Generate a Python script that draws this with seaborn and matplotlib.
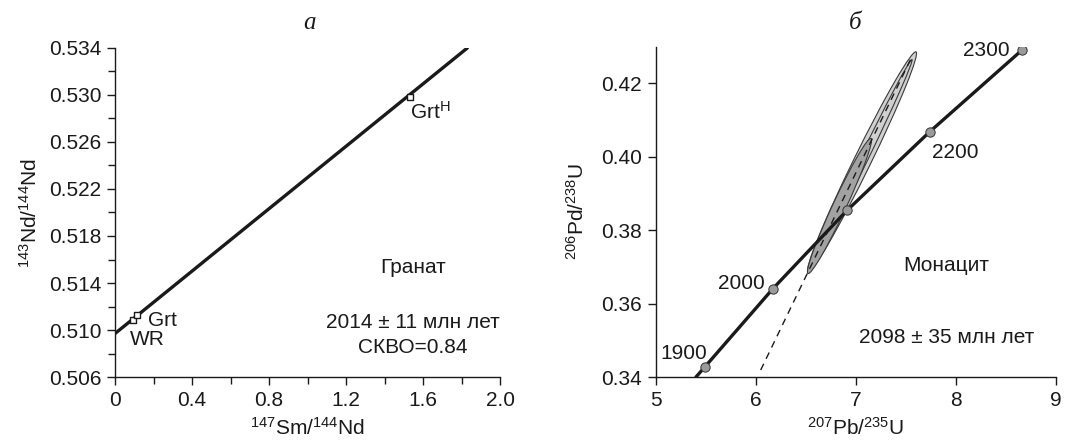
import numpy as np
import matplotlib
matplotlib.use('Agg')
import matplotlib.pyplot as plt
import matplotlib.transforms as mtransforms
from matplotlib.patches import Ellipse
import pandas as pd
import seaborn as sns

# ── Data: Sm–Nd isochron (panel a) ───────────────────────────────────────────
ISO_X = [0.0, 1.83]
ISO_Y = [0.5097, 0.5340]
PTS_NAMES = ['WR', 'Grt', 'GrtH']
PTS_X = [0.092, 0.116, 1.532]
PTS_Y = [0.51085, 0.5113, 0.52986]

X1_TICKS = [0.0, 0.4, 0.8, 1.2, 1.6, 2.0]
X1_LABELS = ['0', '0.4', '0.8', '1.2', '1.6', '2.0']
X1_MINOR = [0.2, 0.6, 1.0, 1.4, 1.8]
Y1_TICKS = [0.506, 0.510, 0.514, 0.518, 0.522, 0.526, 0.530, 0.534]
Y1_MINOR = [0.508, 0.512, 0.516, 0.520, 0.524, 0.528, 0.532]

# ── Data: U–Pb concordia (panel б) ───────────────────────────────────────────
CONC_X = [5.40, 5.49, 6.17, 6.91, 7.74, 8.66, 8.68]
CONC_Y = [0.3400, 0.3428, 0.3641, 0.3854, 0.4069, 0.4291, 0.4295]
AGE_LABELS = [1900, 2000, 2100, 2200, 2300]
AGE_X = [5.49, 6.17, 6.91, 7.74, 8.66]
AGE_Y = [0.3428, 0.3641, 0.3854, 0.4069, 0.4291]

DISC_X = [6.047, 7.55]
DISC_Y = [0.3419, 0.4268]

X2_TICKS = [5, 6, 7, 8, 9]
Y2_TICKS = [0.34, 0.36, 0.38, 0.40, 0.42]

# error ellipses: centre, half major axis, half minor axis (data units)
ELL_CX = [7.06, 7.07, 6.835]
ELL_CY = [0.3986, 0.3990, 0.3866]
ELL_AX = [0.54, 0.49, 0.315]
ELL_AY = [0.0300, 0.0275, 0.0184]
ELL_BX = [-0.0760, -0.036, -0.060]
ELL_BY = [0.00102, 0.00048, 0.00078]
ELL_FILL = ['#d0d0d0', 'none', '#a2a2a2']

DARK = '#1a1a1a'

sns.set_theme(style='ticks')
plt.rcParams['font.family'] = ['Liberation Sans', 'DejaVu Sans']
plt.rcParams['mathtext.fontset'] = 'custom'
plt.rcParams['mathtext.rm'] = 'Liberation Sans'
plt.rcParams['mathtext.it'] = 'Liberation Sans'
plt.rcParams['axes.edgecolor'] = DARK
plt.rcParams['axes.linewidth'] = 1.0

FS = 15

fig = plt.figure(figsize=(10.77, 4.41), dpi=100)
fig.patch.set_facecolor('white')
ax1 = fig.add_axes([0.1068, 0.1451, 0.3575, 0.7461])
ax2 = fig.add_axes([0.6091, 0.1451, 0.3714, 0.7489])


def style(ax):
    ax.spines[['top', 'right']].set_visible(False)
    ax.tick_params(axis='both', which='major', labelsize=FS, length=6, width=1,
                   direction='out', colors=DARK, pad=4)
    ax.tick_params(axis='both', which='minor', length=5, width=1, direction='out', colors=DARK)
    ax.set_facecolor('white')


# ══ Panel a ══════════════════════════════════════════════════════════════════
iso = pd.DataFrame({'x': ISO_X, 'y': ISO_Y})
sns.lineplot(data=iso, x='x', y='y', ax=ax1, color=DARK, linewidth=2.4, sort=False, zorder=2)
pts = pd.DataFrame({'x': PTS_X, 'y': PTS_Y, 'name': PTS_NAMES})
sns.scatterplot(data=pts, x='x', y='y', ax=ax1, marker='s', s=22, color='white',
                edgecolor=DARK, linewidth=1.0, zorder=3)

ax1.set_xlim(0, 2.0)
ax1.set_ylim(0.506, 0.534)
ax1.set_xticks(X1_TICKS, X1_LABELS)
ax1.set_xticks(X1_MINOR, minor=True)
ax1.set_yticks(Y1_TICKS, [f"{v:.3f}" for v in Y1_TICKS])
ax1.set_yticks(Y1_MINOR, minor=True)
style(ax1)
ax1.set_xlabel('$^{147}$Sm/$^{144}$Nd', fontsize=FS, color=DARK, labelpad=5)
ax1.set_ylabel('$^{143}$Nd/$^{144}$Nd', fontsize=FS, color=DARK, labelpad=6)

ax1.text(0.171, 0.51085, 'Grt', fontsize=FS, color=DARK, ha='left', va='center')
ax1.text(0.078, 0.50915, 'WR', fontsize=FS, color=DARK, ha='left', va='center')
ax1.text(1.532, 0.52855, 'Grt$^{\\mathrm{H}}$', fontsize=FS, color=DARK, ha='left', va='center')
ax1.text(1.548, 0.51536, 'Гранат', fontsize=FS, color=DARK, ha='center', va='center')
ax1.text(1.548, 0.51068, '2014 ± 11 млн лет', fontsize=FS, color=DARK, ha='center', va='center')
ax1.text(1.548, 0.50847, 'СКВО=0.84', fontsize=FS, color=DARK, ha='center', va='center')

# ══ Panel б ══════════════════════════════════════════════════════════════════
for cx, cy, axx, ayy, bx, by, fc in zip(ELL_CX, ELL_CY, ELL_AX, ELL_AY, ELL_BX, ELL_BY, ELL_FILL):
    tr = mtransforms.Affine2D(np.array([[axx, bx, cx], [ayy, by, cy], [0, 0, 1]])) + ax2.transData
    e = Ellipse((0, 0), 2, 2, facecolor=fc, edgecolor='#3a3a3a', linewidth=0.8,
                transform=tr, zorder=1)
    ax2.add_patch(e)

disc = pd.DataFrame({'x': DISC_X, 'y': DISC_Y})
sns.lineplot(data=disc, x='x', y='y', ax=ax2, color=DARK, linewidth=1.0, sort=False,
             zorder=2, linestyle=(0, (5, 4)))

conc = pd.DataFrame({'x': CONC_X, 'y': CONC_Y})
sns.lineplot(data=conc, x='x', y='y', ax=ax2, color=DARK, linewidth=2.4, sort=False, zorder=3)
ages = pd.DataFrame({'x': AGE_X, 'y': AGE_Y, 'age': AGE_LABELS})
sns.scatterplot(data=ages, x='x', y='y', ax=ax2, s=45, color='#9a9a9a',
                edgecolor='#333333', linewidth=0.7, zorder=4)

ax2.set_xlim(5, 9)
ax2.set_ylim(0.34, 0.43)
ax2.set_xticks(X2_TICKS, [str(v) for v in X2_TICKS])
ax2.set_yticks(Y2_TICKS, [f"{v:.2f}" for v in Y2_TICKS])
style(ax2)
ax2.set_xlabel('$^{207}$Pb/$^{235}$U', fontsize=FS, color=DARK, labelpad=5)
ax2.set_ylabel('$^{206}$Pd/$^{238}$U', fontsize=FS, color=DARK, labelpad=10)

ax2.text(5.51, 0.3465, '1900', fontsize=FS, color=DARK, ha='right', va='center')
ax2.text(6.09, 0.3656, '2000', fontsize=FS, color=DARK, ha='right', va='center')
ax2.text(7.76, 0.4012, '2200', fontsize=FS, color=DARK, ha='left', va='center')
ax2.text(8.54, 0.4289, '2300', fontsize=FS, color=DARK, ha='right', va='center')
ax2.text(7.90, 0.3704, 'Монацит', fontsize=FS, color=DARK, ha='center', va='center')
ax2.text(7.91, 0.3509, '2098 ± 35 млн лет', fontsize=FS, color=DARK, ha='center', va='center')

# panel letters
fig.text(0.2878, 0.9478, 'a', fontsize=18, style='italic', color=DARK, ha='center', va='center',
         family=['Liberation Serif', 'DejaVu Serif'])
fig.text(0.7939, 0.9478, 'б', fontsize=18, style='italic', color=DARK, ha='center', va='center',
         family=['Liberation Serif', 'DejaVu Serif'])

fig.savefig('out.png', dpi=100, facecolor='white')
